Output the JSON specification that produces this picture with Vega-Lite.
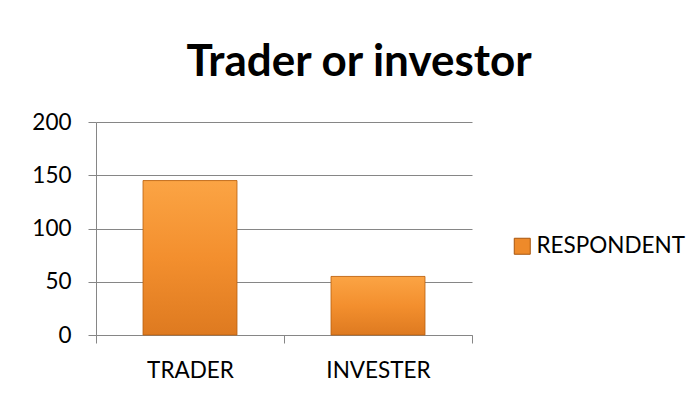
{
  "$schema": "https://vega.github.io/schema/vega-lite/v6.json",
  "autosize": "none",
  "width": 376,
  "height": 213,
  "padding": {"left": 96, "top": 122, "right": 227, "bottom": 66},
  "background": "white",
  "title": {
    "text": "Trader or investor",
    "font": "Lato",
    "fontSize": 44,
    "fontWeight": "bold",
    "color": "black",
    "anchor": "middle",
    "baseline": "alphabetic",
    "offset": 45,
    "dx": 75,
    "dy": 54
  },
  "data": {
    "values": [
      {"category": "TRADER", "value": 145, "series": "RESPONDENT"},
      {"category": "INVESTER", "value": 55, "series": "RESPONDENT"}
    ]
  },
  "encoding": {
    "x": {
      "field": "category",
      "type": "nominal",
      "sort": ["TRADER", "INVESTER"],
      "scale": {"paddingInner": 0, "paddingOuter": 0},
      "axis": {
        "title": null,
        "labelAngle": 0,
        "tickBand": "extent",
        "tickSize": 8,
        "labelPadding": 16,
        "grid": false
      }
    },
    "y": {
      "field": "value",
      "type": "quantitative",
      "scale": {"domain": [0, 200], "nice": false},
      "axis": {
        "title": null,
        "values": [0, 50, 100, 150, 200],
        "tickSize": 8,
        "labelPadding": 17,
        "grid": true
      }
    }
  },
  "layer": [
    {
      "mark": {"type": "bar", "width": {"band": 0.5}},
      "encoding": {
        "color": {
          "field": "series",
          "type": "nominal",
          "scale": {"range": ["#EE8A2A"]},
          "legend": {
            "title": null,
            "orient": "none",
            "legendX": 415,
            "legendY": 113,
            "symbolType": "square",
            "symbolSize": 256,
            "symbolStrokeColor": "#A8560E",
            "symbolStrokeWidth": 1,
            "labelFont": "Lato",
            "labelFontSize": 22.5,
            "labelColor": "black",
            "labelOffset": 3,
            "padding": 0
          }
        }
      }
    },
    {
      "mark": {
        "type": "bar",
        "width": {"band": 0.5},
        "stroke": "#B8600F",
        "strokeWidth": 0.8,
        "color": {
          "gradient": "linear",
          "x1": 0, "y1": 0, "x2": 0, "y2": 1,
          "stops": [
            {"offset": 0, "color": "#FBA444"},
            {"offset": 0.5, "color": "#F38F2E"},
            {"offset": 1, "color": "#DE7A20"}
          ]
        }
      }
    }
  ],
  "config": {
    "view": {"stroke": null},
    "axis": {
      "labelFont": "Lato",
      "labelFontSize": 22.5,
      "labelColor": "black",
      "domainColor": "#868686",
      "tickColor": "#868686",
      "gridColor": "#868686",
      "domainWidth": 1,
      "tickWidth": 1,
      "gridWidth": 1
    }
  }
}
